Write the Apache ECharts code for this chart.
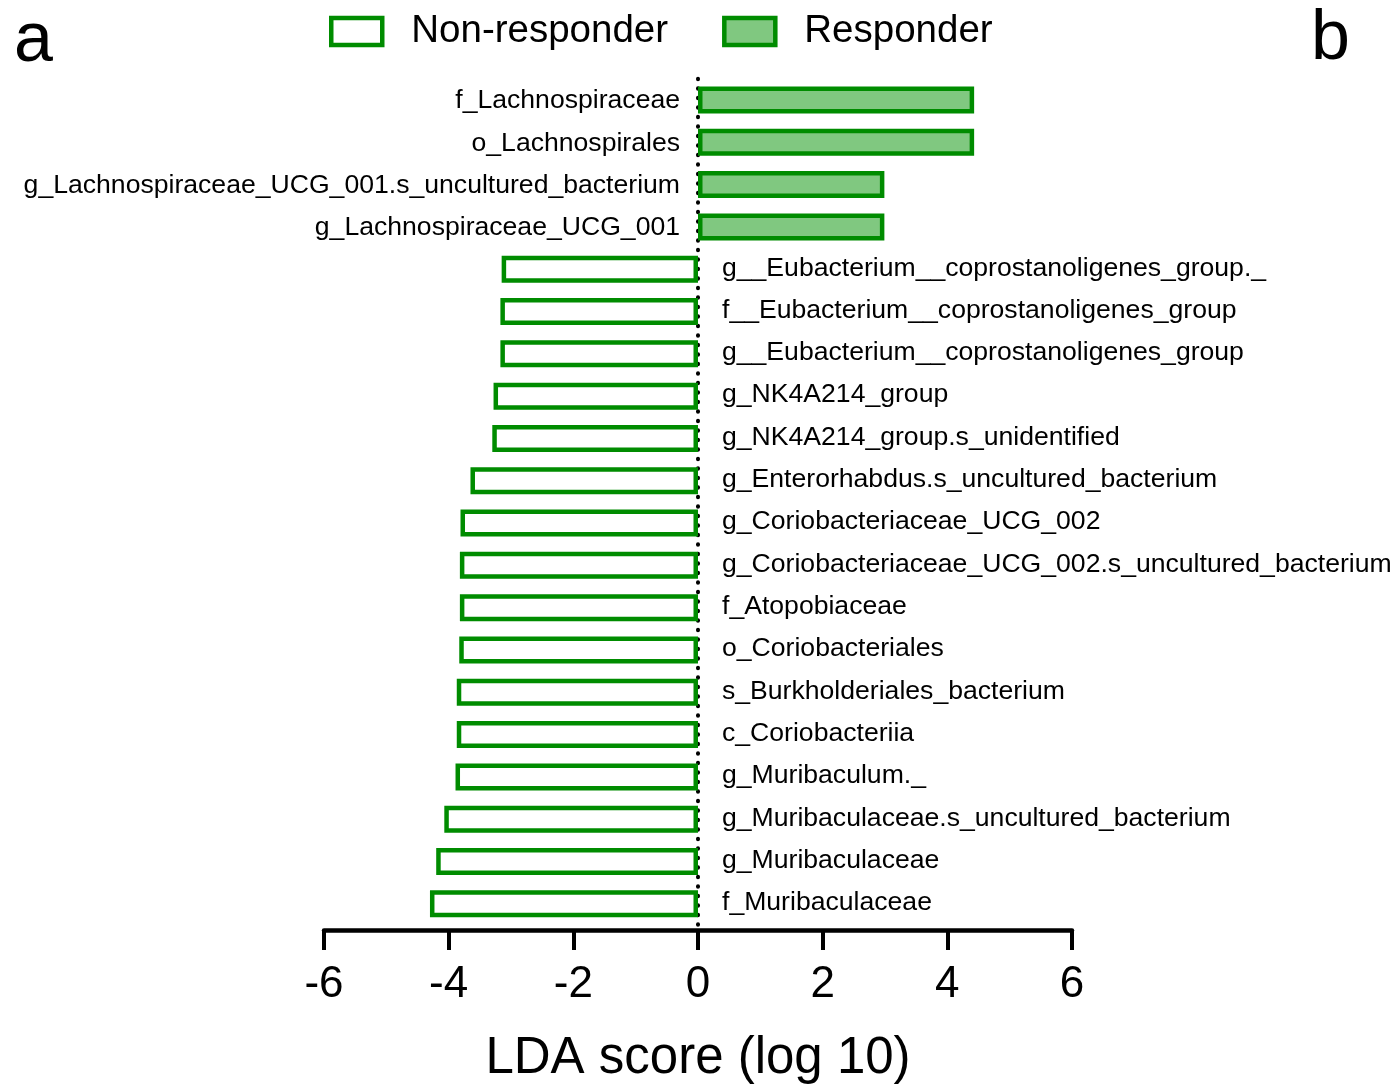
<!DOCTYPE html>
<html>
<head>
<meta charset="utf-8">
<script src="https://cdn.jsdelivr.net/npm/echarts@6/dist/echarts.min.js"></script>
<style>
html,body{margin:0;padding:0;background:#fff;overflow:hidden;}
#chart{width:1398px;height:1089px;}
</style>
</head>
<body>
<div id="chart"></div>
<script>
var categories = [
  'f_Lachnospiraceae',
  'o_Lachnospirales',
  'g_Lachnospiraceae_UCG_001.s_uncultured_bacterium',
  'g_Lachnospiraceae_UCG_001',
  'g__Eubacterium__coprostanoligenes_group._',
  'f__Eubacterium__coprostanoligenes_group',
  'g__Eubacterium__coprostanoligenes_group',
  'g_NK4A214_group',
  'g_NK4A214_group.s_unidentified',
  'g_Enterorhabdus.s_uncultured_bacterium',
  'g_Coriobacteriaceae_UCG_002',
  'g_Coriobacteriaceae_UCG_002.s_uncultured_bacterium',
  'f_Atopobiaceae',
  'o_Coriobacteriales',
  's_Burkholderiales_bacterium',
  'c_Coriobacteriia',
  'g_Muribaculum._',
  'g_Muribaculaceae.s_uncultured_bacterium',
  'g_Muribaculaceae',
  'f_Muribaculaceae'
];
var ldaScores = [4.43, 4.43, 2.99, 2.99, -3.15, -3.17, -3.17, -3.28, -3.30, -3.65,
                 -3.81, -3.82, -3.82, -3.83, -3.87, -3.87, -3.89, -4.07, -4.20, -4.30];
var groupNames = ['Non-responder', 'Responder'];
var xTicks = { min: -6, max: 6, interval: 2 };
var axisTitle = 'LDA score (log 10)';
var panelLetters = ['a', 'b'];

var responderData = ldaScores.map(function (v) { return v > 0 ? v : '-'; });
var nonResponderData = ldaScores.map(function (v) { return v < 0 ? v : '-'; });

var FONT = "'Liberation Sans', Arial, Helvetica, sans-serif";
var GREEN = '#008c00';
var FILL = '#80c880';

var chart = echarts.init(document.getElementById('chart'));
chart.setOption({
  animation: false,
  backgroundColor: '#fff',
  graphic: [
    { type: 'text', left: 14, top: 7, style: { text: panelLetters[0], font: '70px ' + FONT, fill: '#000' } },
    { type: 'text', left: 1311, top: 5, style: { text: panelLetters[1], font: '70px ' + FONT, fill: '#000' } }
  ],
  legend: {
    left: 324,
    top: 7,
    itemWidth: 51,
    itemHeight: 27,
    itemGap: 54,
    icon: 'rect',
    textStyle: { fontSize: 38.5, color: '#000', fontFamily: FONT, padding: [0, 0, 0, 24] },
    data: [
      { name: groupNames[0], itemStyle: { color: '#fff', borderColor: GREEN, borderWidth: 4.5 } },
      { name: groupNames[1], itemStyle: { color: FILL, borderColor: GREEN, borderWidth: 4.5 } }
    ]
  },
  grid: { left: 324, right: 326, top: 78.8, bottom: 160.8, containLabel: false },
  xAxis: {
    type: 'value',
    min: xTicks.min,
    max: xTicks.max,
    interval: xTicks.interval,
    offset: 5,
    splitLine: { show: false },
    axisLine: { show: true, onZero: false, lineStyle: { color: '#000', width: 4.5 } },
    axisTick: { show: true, length: 20, lineStyle: { color: '#000', width: 4 } },
    axisLabel: { fontSize: 44, color: '#000', fontFamily: FONT, margin: 33 },
    name: axisTitle,
    nameLocation: 'middle',
    nameGap: 103,
    nameTextStyle: { fontSize: 51, color: '#000', fontFamily: FONT }
  },
  yAxis: {
    type: 'category',
    data: categories,
    inverse: true,
    axisLabel: { show: false },
    axisTick: { show: false },
    splitLine: { show: false },
    axisLine: { show: true, onZero: true, lineStyle: { color: '#000', width: 4, type: [0.5, 9], cap: 'round' } }
  },
  series: [
    {
      name: groupNames[0],
      type: 'bar',
      data: nonResponderData,
      barWidth: 27,
      barGap: '-100%',
      itemStyle: { color: '#fff', borderColor: GREEN, borderWidth: 4.5 },
      label: { show: true, position: 'right', distance: 24, offset: [0, -1], formatter: '{b}', fontSize: 26.6, color: '#000', fontFamily: FONT },
      z: 1
    },
    {
      name: groupNames[1],
      type: 'bar',
      data: responderData,
      barWidth: 27,
      barGap: '-100%',
      itemStyle: { color: FILL, borderColor: GREEN, borderWidth: 4.5 },
      label: { show: true, position: 'left', distance: 18, offset: [0, 1], formatter: '{b}', fontSize: 26.6, color: '#000', fontFamily: FONT },
      z: 1
    }
  ]
});
</script>
</body>
</html>
